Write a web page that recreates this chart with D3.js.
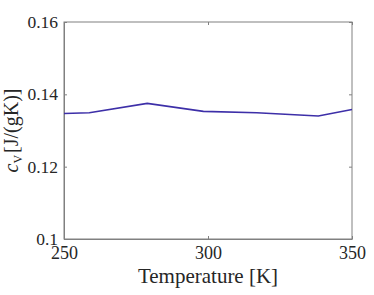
<!DOCTYPE html>
<html>
<head>
<meta charset="utf-8">
<script src="https://cdn.jsdelivr.net/npm/d3@7"></script>
<style>
  body { margin: 0; background: #fff; }
  svg text { font-family: 'Liberation Serif', serif !important; fill: #262626; }
</style>
</head>
<body>
<div id="chart"></div>
<script>
// data
var temps = [250, 258.8, 278.9, 298.4, 316.9, 338.3, 350];
var cv = [0.1347, 0.1349, 0.1375, 0.1353, 0.1349, 0.1340, 0.1358];
var xTicks = [250, 300, 350];
var yTicks = [0.1, 0.12, 0.14, 0.16];

var svgWidth = 374, svgHeight = 295;
var margin = { top: 22, right: 22, bottom: 56, left: 64 };
var width = svgWidth - margin.left - margin.right;
var height = svgHeight - margin.top - margin.bottom;

var svg = d3.select("#chart").append("svg")
  .attr("width", svgWidth)
  .attr("height", svgHeight);

var g = svg.append("g")
  .attr("transform", `translate(${margin.left}, ${margin.top})`);

var x = d3.scaleLinear().domain([250, 350]).range([0, width]);
var y = d3.scaleLinear().domain([0.1, 0.16]).range([height, 0]);

var axisColor = "#808080";

// box
g.append("rect")
  .attr("width", width).attr("height", height)
  .attr("fill", "none").attr("stroke", axisColor).attr("stroke-width", 1);

// bottom axis, ticks inward
var xAxis = g.append("g")
  .attr("transform", `translate(0, ${height})`)
  .call(d3.axisBottom(x).tickValues(xTicks).tickSizeInner(-3).tickSizeOuter(0).tickPadding(7).tickFormat(d3.format("d")));
xAxis.select(".domain").attr("stroke", axisColor);
xAxis.selectAll("line").attr("stroke", axisColor);
xAxis.selectAll("text").attr("font-size", 18);

// top ticks
g.append("g")
  .call(d3.axisTop(x).tickValues(xTicks).tickSizeInner(-3).tickSizeOuter(0).tickFormat(""))
  .call(s => s.select(".domain").remove())
  .selectAll("line").attr("stroke", axisColor);

// left axis
var yAxis = g.append("g")
  .call(d3.axisLeft(y).tickValues(yTicks).tickSizeInner(-3).tickSizeOuter(0).tickPadding(6).tickFormat(d3.format("")));
yAxis.select(".domain").attr("stroke", axisColor);
yAxis.selectAll("line").attr("stroke", axisColor);
yAxis.selectAll("text").attr("font-size", 17.5);

// right ticks
g.append("g")
  .attr("transform", `translate(${width}, 0)`)
  .call(d3.axisRight(y).tickValues(yTicks).tickSizeInner(-3).tickSizeOuter(0).tickFormat(""))
  .call(s => s.select(".domain").remove())
  .selectAll("line").attr("stroke", axisColor);

// line
var line = d3.line()
  .x((d, i) => x(temps[i]))
  .y(d => y(d));

g.append("path")
  .datum(cv)
  .attr("fill", "none")
  .attr("stroke", "#3d2fa8")
  .attr("stroke-width", 1.6)
  .attr("d", line);

// x label
g.append("text")
  .attr("x", width / 2)
  .attr("y", height + 44)
  .attr("text-anchor", "middle")
  .attr("font-size", 21)
  .text("Temperature [K]");

// y label
var yl = g.append("text")
  .attr("transform", `translate(-46, ${height / 2}) rotate(-90)`)
  .attr("text-anchor", "middle")
  .attr("font-size", 20);
yl.append("tspan").attr("font-style", "italic").text("c");
yl.append("tspan").attr("font-size", 12).attr("dy", 4).text("V");
yl.append("tspan").attr("dy", -4).attr("dx", 2).text("[J/(gK)]");
</script>
</body>
</html>
